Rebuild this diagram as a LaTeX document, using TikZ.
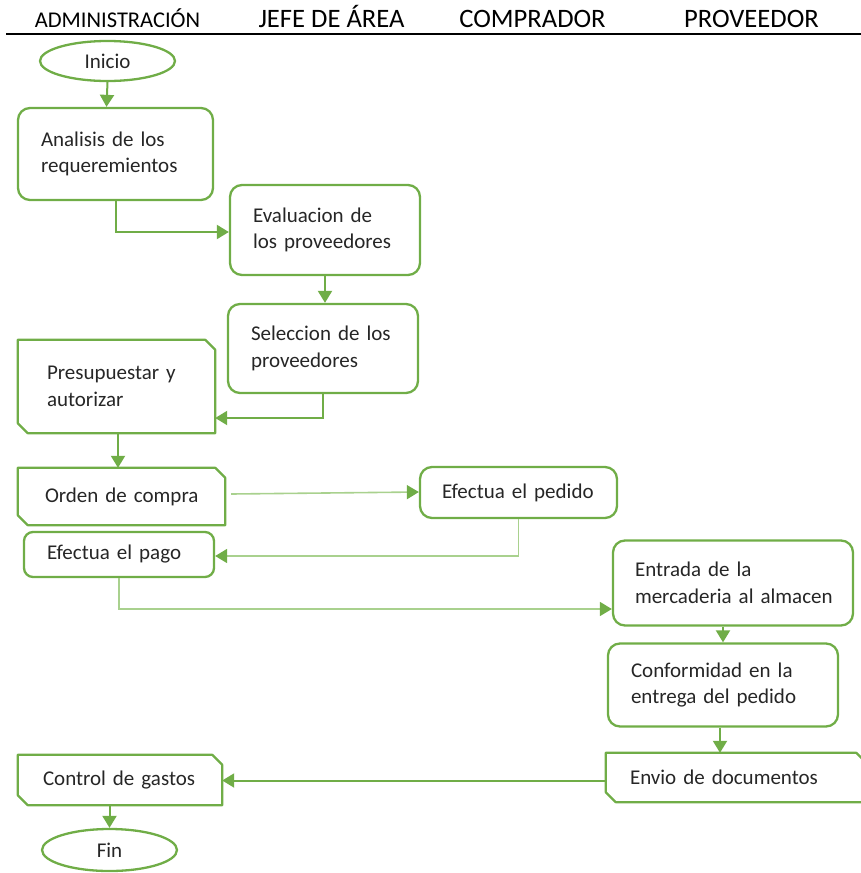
\documentclass[tikz,border=0pt]{standalone}
\usepackage{fontspec}
\setmainfont{Carlito}
\usetikzlibrary{shapes.geometric,arrows.meta}

\definecolor{flowgreen}{HTML}{70AD47}
\definecolor{palegreen}{HTML}{A9D18E}
\definecolor{ink}{HTML}{262626}

% frame with the north-east and south-west corners cut off
\newcommand\snipframe[1]{%
  \draw[frame] (#1.north west) -- ([xshift=-10pt]#1.north east)
    -- ([yshift=-10pt]#1.north east) -- (#1.south east)
    -- ([xshift=10pt]#1.south west) -- ([yshift=10pt]#1.south west) -- cycle;}

\begin{document}
\begin{tikzpicture}[x=1pt,y=-1pt,
  every node/.style={text=ink, font=\fontsize{21}{26.5}\selectfont},
  frame/.style={draw=flowgreen, line width=2.3pt, line join=round},
  proc/.style={frame, rounded corners=12pt, align=left, inner xsep=23pt, inner ysep=0pt},
  snipbox/.style={align=left, inner xsep=26pt, inner ysep=0pt},
  term/.style={frame, ellipse, inner sep=0pt, minimum width=135pt, minimum height=40pt},
  lane/.style={font=\fontsize{26.6}{30}\selectfont, anchor=base, text=black},
  flow/.style={draw=flowgreen, line width=2pt, -{Triangle[length=12pt,width=14pt]}},
  softflow/.style={draw=palegreen, line width=1.6pt, -{Triangle[length=12pt,width=14pt,color=flowgreen]}},
]
\useasboundingbox (0,0) rectangle (861,873);

% lane headings
\node[lane, font=\fontsize{22.5}{26}\selectfont] (h1) at (117.5,27.5) {ADMINISTRACIÓN};
\node[lane] (h2) at (331.5,27.5) {JEFE DE ÁREA};
\node[lane] (h3) at (532.5,27.5) {COMPRADOR};
\node[lane] (h4) at (751.5,27.5) {PROVEEDOR};
\coordinate (rl) at (6,34);
\coordinate (rr) at (861,34);
\draw[line width=2pt] (rl) -- (rr);

% terminals
\node[term] (ini) at (107.5,61) {Inicio};
\node[term, minimum height=42pt] (fin) at (109.5,850) {Fin};

% process boxes
\node[proc, text width=149pt, minimum height=92pt] (ana) at (115.5,154) {\mbox{Analisis de los}\\\mbox{requeremientos}};
\node[proc, text width=144pt, minimum height=90pt] (eva) at (325,230) {\mbox{Evaluacion de}\\\mbox{los proveedores}};
\node[proc, text width=144pt, minimum height=89pt] (sel) at (323,348.5) {\mbox{Seleccion de los}\\\mbox{proveedores}};
\node[proc, rounded corners=9pt, text width=144pt, minimum height=45pt] (pag) at (119,554.5) {\mbox{Efectua el pago}};
\node[proc, inner xsep=22pt, text width=153pt, minimum height=51pt] (ped) at (518.5,492.5) {\mbox{Efectua el pedido}};
\node[proc, inner xsep=22pt, text width=196pt, minimum height=85pt] (ent) at (733,583) {\mbox{Entrada de la}\\\mbox{mercaderia al almacen}};
\node[proc, text width=184pt, minimum height=83pt] (con) at (723,685) {\mbox{Conformidad en la}\\\mbox{entrega del pedido}};

% snipped boxes
\node[snipbox, inner xsep=29pt, text width=139pt, minimum height=93pt] (pre) at (116.5,386.5) {\mbox{Presupuestar y}\\\mbox{autorizar}};
\snipframe{pre}
\node[snipbox, inner xsep=27pt, text width=153pt, minimum height=57pt] (ord) at (121.5,496.5) {\mbox{Orden de compra}};
\snipframe{ord}
\node[snipbox, inner xsep=25pt, text width=154pt, minimum height=50pt] (ctl) at (120,780) {\mbox{Control de gastos}};
\snipframe{ctl}
\node[snipbox, inner xsep=24pt, text width=212pt, minimum height=49pt] (env) at (736,777.5) {\mbox{Envio de documentos}};
\snipframe{env}

% connectors
\draw[flow] (ini.south) -- ([xshift=-1pt]ini.south |- ana.north);
\draw[flow] (ana.south) |- ([yshift=-2pt]eva.west);
\draw[flow] (eva.south) -- (eva.south |- sel.north);
\draw[flow] (sel.south) |- ([yshift=-31.5pt]pre.east);
\draw[flow] ([xshift=1.5pt]pre.south) -- ([xshift=1.5pt]pre.south |- ord.north);
\draw[softflow] ([xshift=6pt,yshift=2.5pt]ord.east) -- ([yshift=0.5pt]ped.west);
\draw[softflow] (ped.south) |- ([yshift=-1.5pt]pag.east);
\draw[softflow] (pag.south) |- ([yshift=-26pt]ent.west);
\draw[flow] (con.north |- ent.south) -- (con.north);
\draw[flow] ([xshift=-3pt]con.south) -- ([xshift=-3pt]con.south |- env.north);
\draw[flow] ([yshift=-3pt]env.west) -- ([yshift=-3pt]env.west -| ctl.east);
\draw[flow] (fin.north |- ctl.south) -- (fin.north);
\end{tikzpicture}
\end{document}
